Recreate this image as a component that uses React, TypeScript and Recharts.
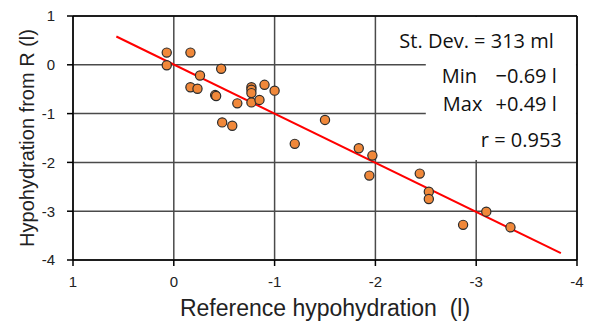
import { ScatterChart, Scatter, XAxis, YAxis, CartesianGrid, ReferenceArea, ReferenceLine, Label } from 'recharts'

// reference hypohydration (l) vs hypohydration estimated from R (l)
const refHypo = [
  0.07, 0.07, -0.165, -0.26, -0.47, -0.165, -0.235, -0.41, -0.42, -0.63,
  -0.77, -0.77, -0.77, -0.77, -0.85, -0.9, -1.0, -0.48, -0.58, -1.5,
  -1.2, -1.835, -1.97, -1.94, -2.44, -2.53, -2.53, -2.87, -3.1, -3.34,
]
const rHypo = [
  0.25, -0.01, 0.25, -0.22, -0.08, -0.46, -0.49, -0.62, -0.64, -0.79,
  -0.46, -0.51, -0.58, -0.77, -0.72, -0.41, -0.53, -1.18, -1.25, -1.13,
  -1.62, -1.71, -1.86, -2.27, -2.23, -2.6, -2.75, -3.28, -3.01, -3.33,
]
const fitX = [0.57, -3.84]
const fitY = [0.58, -3.86]
const xTicks = [1, 0, -1, -2, -3, -4]
const yTicks = [1, 0, -1, -2, -3, -4]
const statDev = 'St. Dev. = 313 ml'
const statMin = ['Min', '\u22120.69 l']
const statMax = ['Max', '+0.49 l']
const statR = 'r = 0.953'

const points = refHypo.map((x, i) => ({ x, y: rHypo[i] }))
const fitLine = fitX.map((x, i) => ({ x, y: fitY[i] }))

const tickStyle = { fill: '#222', fontSize: 15, fontFamily: 'Liberation Sans, Arial, sans-serif' }
const statFont = { fill: '#111', fontSize: 20, fontFamily: 'Open Sans, sans-serif' }

function StatsBox({ viewBox }: { viewBox?: { x: number; y: number; width: number; height: number } }) {
  if (!viewBox) return null
  const { x, y } = viewBox
  const right = x + 131
  return (
    <g>
      <text x={right - 3} y={y + 31} textAnchor="end" {...statFont}>{statDev}</text>
      <text x={x + 16} y={y + 66} {...statFont}>{statMin[0]}</text>
      <text x={right} y={y + 66} textAnchor="end" {...statFont}>{statMin[1]}</text>
      <text x={x + 17} y={y + 94} {...statFont}>{statMax[0]}</text>
      <text x={right} y={y + 94} textAnchor="end" {...statFont}>{statMax[1]}</text>
      <text x={right + 5} y={y + 130} textAnchor="end" {...statFont}>{statR}</text>
    </g>
  )
}

function YTitle({ viewBox }: { viewBox?: { x: number; y: number; width: number; height: number } }) {
  if (!viewBox) return null
  const cx = viewBox.x + 27
  const cy = viewBox.y + viewBox.height / 2
  return (
    <text x={cx} y={cy} transform={`rotate(-90 ${cx} ${cy})`} textAnchor="middle" dominantBaseline="central"
      fill="#222" fontSize={20} fontFamily="Liberation Sans, Arial, sans-serif">
      Hypohydration from R (l)
    </text>
  )
}

export default function App() {
  return (
    <div style={{ position: 'absolute', left: 0, top: 0, background: '#fff' }}>
      <ScatterChart width={595} height={322} margin={{ top: 16, right: 18, bottom: 0, left: 0 }}>
        <CartesianGrid stroke="#4a4a4a" strokeWidth={1.5} horizontalValues={yTicks} verticalValues={xTicks} />
        <XAxis
          type="number"
          dataKey="x"
          domain={[-4, 1]}
          reversed
          ticks={xTicks}
          interval={0}
          height={62}
          tick={tickStyle}
          tickSize={6}
          tickMargin={10}
          axisLine={{ stroke: '#000', strokeWidth: 1.5 }}
          tickLine={{ stroke: '#000', strokeWidth: 1.5 }}
        >
          <Label value={'Reference hypohydration\u00a0\u00a0(l)'} position="insideBottom" offset={6}
            fill="#222" fontSize={23} fontFamily="Liberation Sans, Arial, sans-serif" />
        </XAxis>
        <YAxis
          type="number"
          dataKey="y"
          domain={[-4, 1]}
          ticks={yTicks}
          interval={0}
          width={73}
          tick={tickStyle}
          tickSize={6}
          tickMargin={12}
          axisLine={{ stroke: '#000', strokeWidth: 1.5 }}
          tickLine={{ stroke: '#000', strokeWidth: 1.5 }}
        >
          <Label content={<YTitle />} />
        </YAxis>
        <ReferenceArea x1={-2.5} x2={-3.99} y1={-1.95} y2={0.98} fill="#fff" fillOpacity={1} stroke="none"
          ifOverflow="visible" label={<StatsBox />} />
        <ReferenceLine x={-4} stroke="#000" strokeWidth={1.5} />
        <ReferenceLine y={1} stroke="#000" strokeWidth={1.5} />
        <Scatter data={fitLine} line={{ stroke: '#ff0000', strokeWidth: 2 }} shape={() => null} isAnimationActive={false} />
        <Scatter data={points} fill="#f0883a" stroke="#2b2b2b" strokeWidth={1.2} isAnimationActive={false}
          shape={(p: any) => <circle cx={p.cx} cy={p.cy} r={4.6} fill="#f0883a" stroke="#2b2b2b" strokeWidth={1.2} />} />
      </ScatterChart>
    </div>
  )
}
